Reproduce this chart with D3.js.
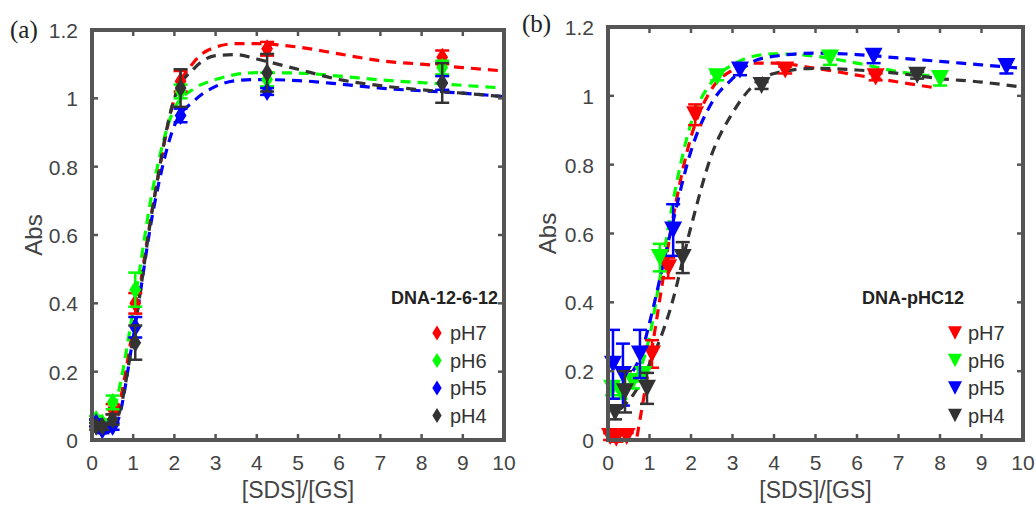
<!DOCTYPE html>
<html>
<head>
<meta charset="utf-8">
<script src="https://cdn.jsdelivr.net/npm/d3@7"></script>
<style>
  body { margin: 0; background: #fff; }
  text { font-family: "Liberation Sans", Arial, sans-serif; }
</style>
</head>
<body>
<div id="chart"></div>
<script>
// ---- data ----
const seriesNames = ["pH7", "pH6", "pH5", "pH4"];
const seriesColors = ["#ff0000", "#00ff00", "#0000ff", "#333333"];
const xTicks = [0, 1, 2, 3, 4, 5, 6, 7, 8, 9, 10];
const yTicks = [0, 0.2, 0.4, 0.6, 0.8, 1, 1.2];

// panel (a) DNA-12-6-12 : measured points
const aX = [0.1, 0.25, 0.5, 1.05, 2.15, 4.25, 8.5];
const aPH7 = [0.05, 0.04, 0.09, 0.40, 1.05, 1.145, 1.12];
const aPH6 = [0.06, 0.05, 0.11, 0.44, 1.02, 1.055, 1.09];
const aPH5 = [0.05, 0.03, 0.04, 0.33, 0.95, 1.02, 1.045];
const aPH4 = [0.04, 0.04, 0.06, 0.285, 1.03, 1.075, 1.045];
const aErr7 = [0.01, 0.01, 0.015, 0.03, 0.03, 0.02, 0.02];
const aErr6 = [0.01, 0.01, 0.02, 0.05, 0.02, 0.02, 0.02];
const aErr5 = [0.01, 0.01, 0.01, 0.03, 0.02, 0.01, 0.02];
const aErr4 = [0.01, 0.01, 0.015, 0.05, 0.055, 0.055, 0.058];

// panel (a) fitted curves
const aFitX = [0.05, 0.3, 0.6, 1, 1.5, 2, 2.5, 3, 3.5, 4, 5, 6, 7, 8, 9, 10];
const aFit7 = [0.05, 0.03, 0.08, 0.33, 0.70, 1.00, 1.11, 1.15, 1.16, 1.16, 1.15, 1.13, 1.11, 1.10, 1.09, 1.08];
const aFit6 = [0.06, 0.04, 0.12, 0.38, 0.75, 0.97, 1.03, 1.055, 1.07, 1.075, 1.074, 1.065, 1.054, 1.046, 1.038, 1.03];
const aFit5 = [0.07, 0.02, 0.05, 0.30, 0.68, 0.92, 0.995, 1.035, 1.052, 1.055, 1.052, 1.042, 1.03, 1.022, 1.015, 1.005];
const aFit4 = [0.05, 0.03, 0.06, 0.30, 0.70, 1.00, 1.09, 1.125, 1.128, 1.115, 1.085, 1.055, 1.037, 1.025, 1.015, 1.005];

// panel (b) DNA-pHC12 : measured points
const bX7 = [0.05, 0.2, 0.45, 1.06, 1.45, 2.1, 4.27, 6.45];
const bPH7 = [0.01, 0.005, 0.01, 0.25, 0.50, 0.945, 1.075, 1.055];
const bErr7 = [0.01, 0.01, 0.01, 0.04, 0.03, 0.03, 0.01, 0.01];
const bX6 = [0.1, 0.3, 0.6, 0.85, 1.25, 2.63, 5.35, 8.0];
const bPH6 = [0.15, 0.14, 0.17, 0.19, 0.53, 1.055, 1.11, 1.05];
const bErr6 = [0.02, 0.02, 0.02, 0.02, 0.04, 0.01, 0.02, 0.02];
const bX5 = [0.12, 0.36, 0.77, 1.57, 3.18, 6.4, 9.6];
const bPH5 = [0.22, 0.19, 0.25, 0.61, 1.075, 1.115, 1.085];
const bErr5 = [0.10, 0.09, 0.07, 0.075, 0.015, 0.02, 0.02];
const bX4 = [0.17, 0.41, 0.94, 1.8, 3.7, 7.45];
const bPH4 = [0.08, 0.14, 0.15, 0.53, 1.03, 1.06];
const bErr4 = [0.02, 0.06, 0.045, 0.045, 0.01, 0.01];

// panel (b) fitted curves
const bFitX7 = [0.7, 0.8, 1, 1.25, 1.5, 2, 2.5, 3, 3.5, 4, 5, 6, 7, 7.8];
const bFit7 = [0.01, 0.08, 0.22, 0.41, 0.60, 0.88, 1.02, 1.075, 1.095, 1.095, 1.08, 1.06, 1.04, 1.025];
const bFitX6 = [0.3, 0.7, 1, 1.25, 1.5, 2, 2.5, 3, 3.5, 4, 5, 6, 7, 8];
const bFit6 = [0.15, 0.19, 0.30, 0.47, 0.65, 0.92, 1.04, 1.09, 1.115, 1.122, 1.115, 1.095, 1.07, 1.055];
const bFitX5 = [0.6, 0.8, 1, 1.5, 2, 2.5, 3, 3.5, 4, 5, 6, 7, 8, 9, 10];
const bFit5 = [0.20, 0.25, 0.34, 0.60, 0.84, 0.98, 1.05, 1.10, 1.115, 1.124, 1.12, 1.11, 1.10, 1.09, 1.08];
const bFitX4 = [0.3, 0.6, 1, 1.5, 2, 2.5, 3, 3.5, 4, 5, 6, 7, 8, 9, 10];
const bFit4 = [0.09, 0.13, 0.22, 0.38, 0.62, 0.83, 0.95, 1.03, 1.065, 1.08, 1.075, 1.065, 1.05, 1.04, 1.025];

// ---- drawing ----
const W = 1036, H = 509;
const axisColor = "#555555", textColor = "#444444";

const svg = d3.select("#chart").append("svg")
  .attr("width", W)
  .attr("height", H);

const zip = (xs, ys, es) => xs.map((x, i) => ({ x, y: ys[i], e: es ? es[i] : 0 }));

const panels = [
  {
    left: 92, right: 504, top: 30, bottom: 440,
    letter: "(a)", letterX: 10, letterY: 38,
    title: "DNA-12-6-12", titleX: 498, titleAnchor: "end",
    legendX: 437, marker: "diamond",
    ylabX: 42,
    points: [zip(aX, aPH7, aErr7), zip(aX, aPH6, aErr6), zip(aX, aPH5, aErr5), zip(aX, aPH4, aErr4)],
    fits: [zip(aFitX, aFit7), zip(aFitX, aFit6), zip(aFitX, aFit5), zip(aFitX, aFit4)]
  },
  {
    left: 608, right: 1023, top: 27, bottom: 440,
    letter: "(b)", letterX: 522, letterY: 32,
    title: "DNA-pHC12", titleX: 862, titleAnchor: "start",
    legendX: 955, marker: "triangle",
    ylabX: 556,
    points: [zip(bX7, bPH7, bErr7), zip(bX6, bPH6, bErr6), zip(bX5, bPH5, bErr5), zip(bX4, bPH4, bErr4)],
    fits: [zip(bFitX7, bFit7), zip(bFitX6, bFit6), zip(bFitX5, bFit5), zip(bFitX4, bFit4)]
  }
];

const markerPath = (type, s) => {
  if (type === "diamond") {
    const w = s * 0.62, h = s;
    return `M0,${-h / 2}L${w / 2},0L0,${h / 2}L${-w / 2},0Z`;
  }
  const w = s, h = s * 0.95;
  return `M${-w / 2},${-h / 2}L${w / 2},${-h / 2}L0,${h / 2}Z`;
};

panels.forEach(p => {
  const x = d3.scaleLinear().domain([0, 10]).range([p.left, p.right]);
  const y = d3.scaleLinear().domain([0, 1.2]).range([p.bottom, p.top]);
  const g = svg.append("g");

  // fitted dashed curves
  const line = d3.line().x(d => x(d.x)).y(d => y(d.y)).curve(d3.curveMonotoneX);
  p.fits.forEach((f, i) => {
    g.append("path")
      .datum(f)
      .attr("d", line)
      .attr("fill", "none")
      .attr("stroke", seriesColors[i])
      .attr("stroke-width", 3.2)
      .attr("stroke-dasharray", "10,7");
  });

  // error bars + markers
  p.points.forEach((pts, i) => {
    const col = seriesColors[i];
    const s = g.append("g");
    s.selectAll("line.eb")
      .data(pts.filter(d => d.e > 0))
      .enter().append("line")
      .attr("x1", d => x(d.x)).attr("x2", d => x(d.x))
      .attr("y1", d => y(d.y - d.e)).attr("y2", d => y(d.y + d.e))
      .attr("stroke", col).attr("stroke-width", 2.5);
    [-1, 1].forEach(sign => {
      s.selectAll(null)
        .data(pts.filter(d => d.e > 0))
        .enter().append("line")
        .attr("x1", d => x(d.x) - 7).attr("x2", d => x(d.x) + 7)
        .attr("y1", d => y(d.y + sign * d.e)).attr("y2", d => y(d.y + sign * d.e))
        .attr("stroke", col).attr("stroke-width", 2.5);
    });
    s.selectAll("path")
      .data(pts)
      .enter().append("path")
      .attr("d", markerPath(p.marker, p.marker === "diamond" ? 19 : 18))
      .attr("transform", d => `translate(${x(d.x)},${y(d.y)})`)
      .attr("fill", col);
  });

  // box frame with inward ticks on all sides
  const tk = 6;
  const ax = g.append("g").attr("stroke", axisColor);
  ax.append("rect")
    .attr("x", p.left).attr("y", p.top)
    .attr("width", p.right - p.left).attr("height", p.bottom - p.top)
    .attr("fill", "none").attr("stroke-width", 4);
  xTicks.forEach(t => {
    ax.append("line").attr("x1", x(t)).attr("x2", x(t))
      .attr("y1", p.bottom).attr("y2", p.bottom - tk).attr("stroke-width", 2.5);
    ax.append("line").attr("x1", x(t)).attr("x2", x(t))
      .attr("y1", p.top).attr("y2", p.top + tk).attr("stroke-width", 2.5);
  });
  yTicks.forEach(t => {
    ax.append("line").attr("x1", p.left).attr("x2", p.left + tk)
      .attr("y1", y(t)).attr("y2", y(t)).attr("stroke-width", 2.5);
    ax.append("line").attr("x1", p.right).attr("x2", p.right - tk)
      .attr("y1", y(t)).attr("y2", y(t)).attr("stroke-width", 2.5);
  });

  // tick labels
  g.selectAll("text.xt")
    .data(xTicks).enter().append("text")
    .attr("x", d => x(d)).attr("y", p.bottom + 30)
    .attr("text-anchor", "middle")
    .attr("font-size", 21).attr("fill", textColor)
    .text(d => d);
  g.selectAll("text.yt")
    .data(yTicks).enter().append("text")
    .attr("x", p.left - 14).attr("y", d => y(d) + 8)
    .attr("text-anchor", "end")
    .attr("font-size", 21).attr("fill", textColor)
    .text(d => d);

  // axis titles
  g.append("text")
    .attr("x", (p.left + p.right) / 2).attr("y", p.bottom + 58)
    .attr("text-anchor", "middle")
    .attr("font-size", 23).attr("fill", textColor)
    .text("[SDS]/[GS]");
  g.append("text")
    .attr("transform", `translate(${p.ylabX},${(p.top + p.bottom) / 2}) rotate(-90)`)
    .attr("text-anchor", "middle")
    .attr("font-size", 24).attr("fill", textColor)
    .text("Abs");

  // panel letter
  g.append("text")
    .attr("x", p.letterX).attr("y", p.letterY)
    .style("font-family", "'Liberation Serif', 'DejaVu Serif', serif")
    .attr("font-size", 25).attr("fill", "#222")
    .text(p.letter);

  // sample title
  g.append("text")
    .attr("x", p.titleX).attr("y", 304)
    .attr("text-anchor", p.titleAnchor)
    .attr("font-size", 18).attr("font-weight", "bold").attr("fill", "#222")
    .text(p.title);

  // legend
  const lg = g.append("g");
  seriesNames.forEach((name, i) => {
    const cy = 333 + i * 27.5;
    lg.append("path")
      .attr("d", markerPath(p.marker, p.marker === "diamond" ? 15 : 14))
      .attr("transform", `translate(${p.legendX},${cy})`)
      .attr("fill", seriesColors[i]);
    lg.append("text")
      .attr("x", p.legendX + 13).attr("y", cy + 7)
      .attr("font-size", 20).attr("fill", "#333")
      .text(name);
  });
});
</script>
</body>
</html>
